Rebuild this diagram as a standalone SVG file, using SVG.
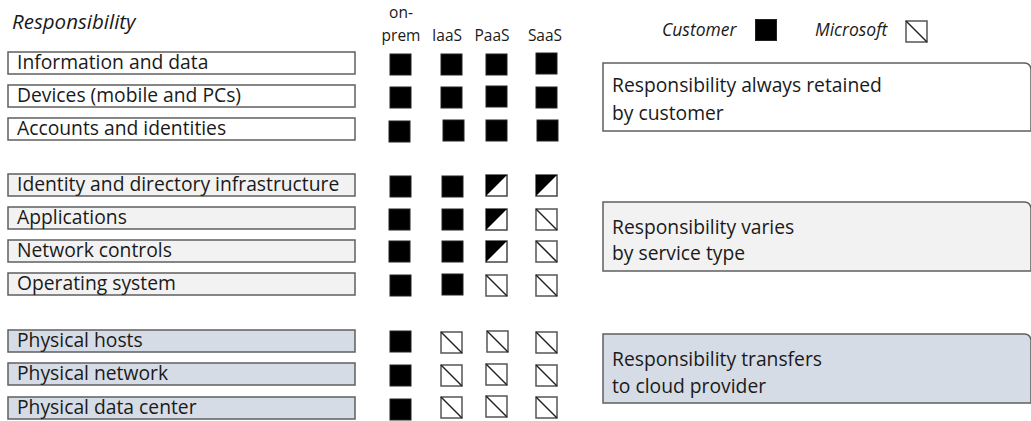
<svg xmlns="http://www.w3.org/2000/svg" xmlns:xlink="http://www.w3.org/1999/xlink" width="1031" height="421" viewBox="0 0 1031 421">
<style>
  .lbl { font-family: "Open Sans", "Liberation Sans", sans-serif; font-size: 19.3px; fill: #1a1a1a; }
  .hdr { font-family: "Open Sans", "Liberation Sans", sans-serif; font-size: 15.5px; fill: #1a1a1a; }
  .ital { font-family: "Open Sans", "Liberation Sans", sans-serif; font-size: 17.5px; font-style: italic; fill: #1a1a1a; }
  .title { font-size: 20.5px; }
  .box { stroke: #5f5f5f; stroke-width: 1.5; }
  .w { fill: #ffffff; }
  .g { fill: #f2f2f2; }
  .b { fill: #d6dce5; }
</style>
<defs>
  <g id="cust"><rect x="0" y="0" width="21" height="21" fill="#000" stroke="#222" stroke-width="1"/></g>
  <g id="half"><rect x="0" y="0" width="21" height="21" fill="#fff" stroke="#444" stroke-width="1.5"/><polygon points="0,0 21,0 0,21" fill="#000"/></g>
  <g id="ms"><rect x="0" y="0" width="21" height="21" fill="#fff" stroke="#555" stroke-width="1.5"/><line x1="0" y1="0" x2="21" y2="21" stroke="#222" stroke-width="1.5"/></g>
</defs>
<rect width="1031" height="421" fill="#fff"/>

<g id="headers">
  <text class="ital title" x="12" y="29">Responsibility</text>
  <text class="hdr" x="401" y="18" text-anchor="middle">on-</text>
  <text class="hdr" x="401" y="41" text-anchor="middle">prem</text>
  <text class="hdr" x="447" y="41" text-anchor="middle">IaaS</text>
  <text class="hdr" x="492" y="41" text-anchor="middle">PaaS</text>
  <text class="hdr" x="545" y="41" text-anchor="middle">SaaS</text>
</g>

<g id="legend">
  <text class="ital" x="662" y="36">Customer</text>
  <use xlink:href="#cust" x="756" y="20" transform="translate(-0.5,-0.5)"/>
  <text class="ital" x="815" y="36">Microsoft</text>
  <use xlink:href="#ms" x="906" y="21"/>
</g>

<g id="row-information">
  <rect class="box w" x="8" y="52" width="347" height="22"/>
  <text class="lbl" x="17" y="69">Information and data</text>
  <use xlink:href="#cust" x="390" y="54"/><use xlink:href="#cust" x="441" y="54"/><use xlink:href="#cust" x="486" y="54"/><use xlink:href="#cust" x="536" y="53"/>
</g>
<g id="row-devices">
  <rect class="box w" x="8" y="85" width="347" height="22"/>
  <text class="lbl" x="17" y="102">Devices (mobile and PCs)</text>
  <use xlink:href="#cust" x="390" y="87"/><use xlink:href="#cust" x="441" y="87"/><use xlink:href="#cust" x="486" y="86"/><use xlink:href="#cust" x="536" y="87"/>
</g>
<g id="row-accounts">
  <rect class="box w" x="8" y="118" width="347" height="22"/>
  <text class="lbl" x="17" y="135">Accounts and identities</text>
  <use xlink:href="#cust" x="389" y="121"/><use xlink:href="#cust" x="443" y="120"/><use xlink:href="#cust" x="486" y="120"/><use xlink:href="#cust" x="537" y="120"/>
</g>

<g id="row-identity">
  <rect class="box g" x="8" y="174" width="347" height="22"/>
  <text class="lbl" x="17" y="191">Identity and directory infrastructure</text>
  <use xlink:href="#cust" x="390" y="176"/><use xlink:href="#cust" x="442" y="176"/><use xlink:href="#half" x="486" y="175"/><use xlink:href="#half" x="536" y="175"/>
</g>
<g id="row-applications">
  <rect class="box g" x="8" y="207" width="347" height="22"/>
  <text class="lbl" x="17" y="224">Applications</text>
  <use xlink:href="#cust" x="389" y="209"/><use xlink:href="#cust" x="442" y="209"/><use xlink:href="#half" x="486" y="209"/><use xlink:href="#ms" x="536" y="209"/>
</g>
<g id="row-network-controls">
  <rect class="box g" x="8" y="240" width="347" height="22"/>
  <text class="lbl" x="17" y="257">Network controls</text>
  <use xlink:href="#cust" x="389" y="241"/><use xlink:href="#cust" x="442" y="241"/><use xlink:href="#half" x="486" y="241"/><use xlink:href="#ms" x="536" y="241"/>
</g>
<g id="row-os">
  <rect class="box g" x="8" y="273" width="347" height="22"/>
  <text class="lbl" x="17" y="290">Operating system</text>
  <use xlink:href="#cust" x="390" y="275"/><use xlink:href="#cust" x="442" y="274"/><use xlink:href="#ms" x="486" y="275"/><use xlink:href="#ms" x="536" y="275"/>
</g>

<g id="row-hosts">
  <rect class="box b" x="8" y="330" width="347" height="22"/>
  <text class="lbl" x="17" y="347">Physical hosts</text>
  <use xlink:href="#cust" x="390" y="331"/><use xlink:href="#ms" x="441" y="332"/><use xlink:href="#ms" x="487" y="331"/><use xlink:href="#ms" x="536" y="332"/>
</g>
<g id="row-physical-network">
  <rect class="box b" x="8" y="363" width="347" height="22"/>
  <text class="lbl" x="17" y="380">Physical network</text>
  <use xlink:href="#cust" x="390" y="365"/><use xlink:href="#ms" x="441" y="365"/><use xlink:href="#ms" x="486" y="364"/><use xlink:href="#ms" x="536" y="365"/>
</g>
<g id="row-datacenter">
  <rect class="box b" x="8" y="397" width="347" height="22"/>
  <text class="lbl" x="17" y="414">Physical data center</text>
  <use xlink:href="#cust" x="390" y="399"/><use xlink:href="#ms" x="441" y="397"/><use xlink:href="#ms" x="486" y="396"/><use xlink:href="#ms" x="536" y="397"/>
</g>

<g id="note-retained">
  <path class="box w" d="M603,63 H1024 Q1030,63 1031,69 V131 H603 Z"/>
  <text class="lbl" x="612" y="92">Responsibility always retained</text>
  <text class="lbl" x="612" y="120">by customer</text>
</g>
<g id="note-varies">
  <path class="box g" d="M603,202 H1024 Q1030,202 1031,208 V271 H603 Z"/>
  <text class="lbl" x="612" y="234">Responsibility varies</text>
  <text class="lbl" x="612" y="260">by service type</text>
</g>
<g id="note-transfers">
  <path class="box b" d="M603,334 H1024 Q1030,334 1031,340 V403 H603 Z"/>
  <text class="lbl" x="612" y="366">Responsibility transfers</text>
  <text class="lbl" x="612" y="393">to cloud provider</text>
</g>

<g id="connectors"/>
</svg>
